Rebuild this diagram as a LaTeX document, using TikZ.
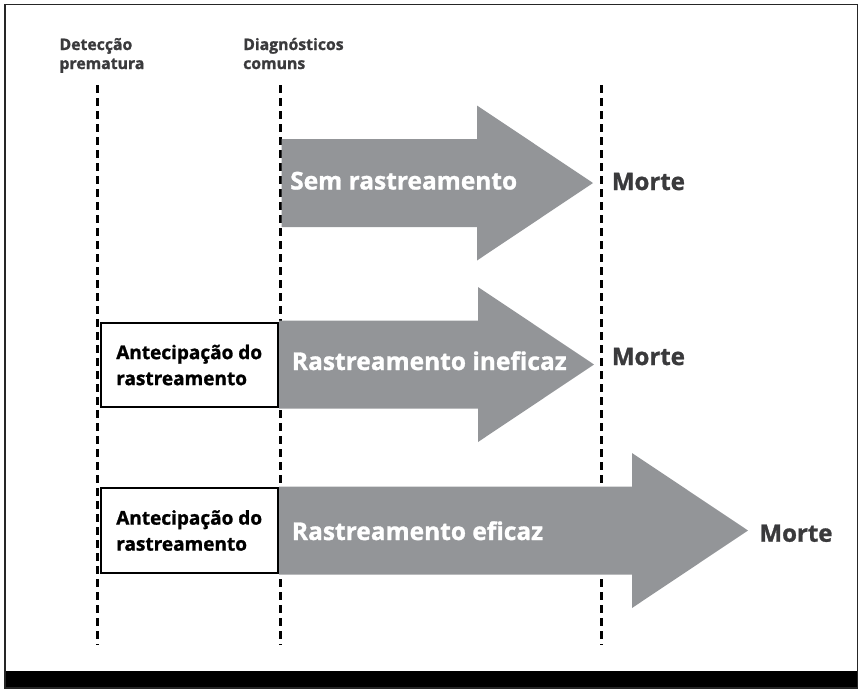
\documentclass[tikz,border=0pt]{standalone}
\usepackage{fontspec}
\setmainfont{Open Sans}[BoldFeatures={FakeBold=1.2}]
\definecolor{arrowgray}{HTML}{939598}
\definecolor{darktext}{HTML}{3A3A3C}
\tikzset{
  hdr/.style={anchor=base west, inner sep=0pt, text=darktext, font=\fontsize{15.8}{19}\selectfont\bfseries, align=left},
  morte/.style={anchor=base west, inner sep=0pt, text=darktext, font=\fontsize{24}{28}\selectfont\bfseries},
  arrlabel/.style={anchor=base west, inner sep=0pt, text=white, font=\fontsize{24.5}{30}\selectfont\bfseries},
  antbox/.style={draw=black, line width=2pt, fill=white, minimum width=177pt, minimum height=84.6pt, inner sep=0pt, align=left, font=\fontsize{19}{26}\selectfont\bfseries},
  guide/.style={line width=2.2pt, dash pattern=on 8pt off 5pt},
  bigarrow/.style={fill=arrowgray, draw=none},
}
\newcommand{\grayarrowshape}[4]{% left x, center y, head base x, tip x
  \fill[bigarrow] (#1,#2-44) -- (#3,#2-44) -- (#3,#2-77.5) -- (#4,#2) -- (#3,#2+77.5) -- (#3,#2+44) -- (#1,#2+44) -- cycle;}
\begin{document}
\begin{tikzpicture}[x=1pt,y=-1pt]
\useasboundingbox (0,0) rectangle (860,689);
% frame and bottom bar
\fill[black] (5,671) rectangle (857.5,688);
\draw[line width=1.5pt, color=black!85] (5,4.5) rectangle (857.5,688);
% headers
\node[hdr] (hdrA) at (59.3,69) {Detecção\\prematura};
\node[hdr] (hdrB) at (243,69) {Diagnósticos\\comuns};
% guide lines
\coordinate (g1t) at (97.5,85);  \coordinate (g1b) at (97.5,645);
\coordinate (g2t) at (280.5,85); \coordinate (g2b) at (280.5,645);
\coordinate (g3t) at (601.5,85); \coordinate (g3b) at (601.5,645);
\draw[guide] (g1t) -- (g1b);
\draw[guide] (g2t) -- (g2b);
\draw[guide] (g3t) -- (g3b);
% arrows
\grayarrowshape{281.5}{183}{477}{593}
\grayarrowshape{279}{364.5}{478}{594}
\grayarrowshape{279}{530.5}{632}{748}
\node[arrlabel] (l1) at (290,189.5) {Sem rastreamento};
\node[arrlabel] (l2) at (291.7,370) {Rastreamento ineficaz};
\node[arrlabel] (l3) at (291.7,540) {Rastreamento eficaz};
% boxes
\node[antbox] (b2) at (189.2,365) {Antecipação do\\rastreamento};
\node[antbox] (b3) at (189.2,530.5) {Antecipação do\\rastreamento};
% Morte
\node[morte] (m1) at (611.7,190) {Morte};
\node[morte] (m2) at (611.7,365) {Morte};
\node[morte] (m3) at (759.3,541.7) {Morte};
\end{tikzpicture}
\end{document}
